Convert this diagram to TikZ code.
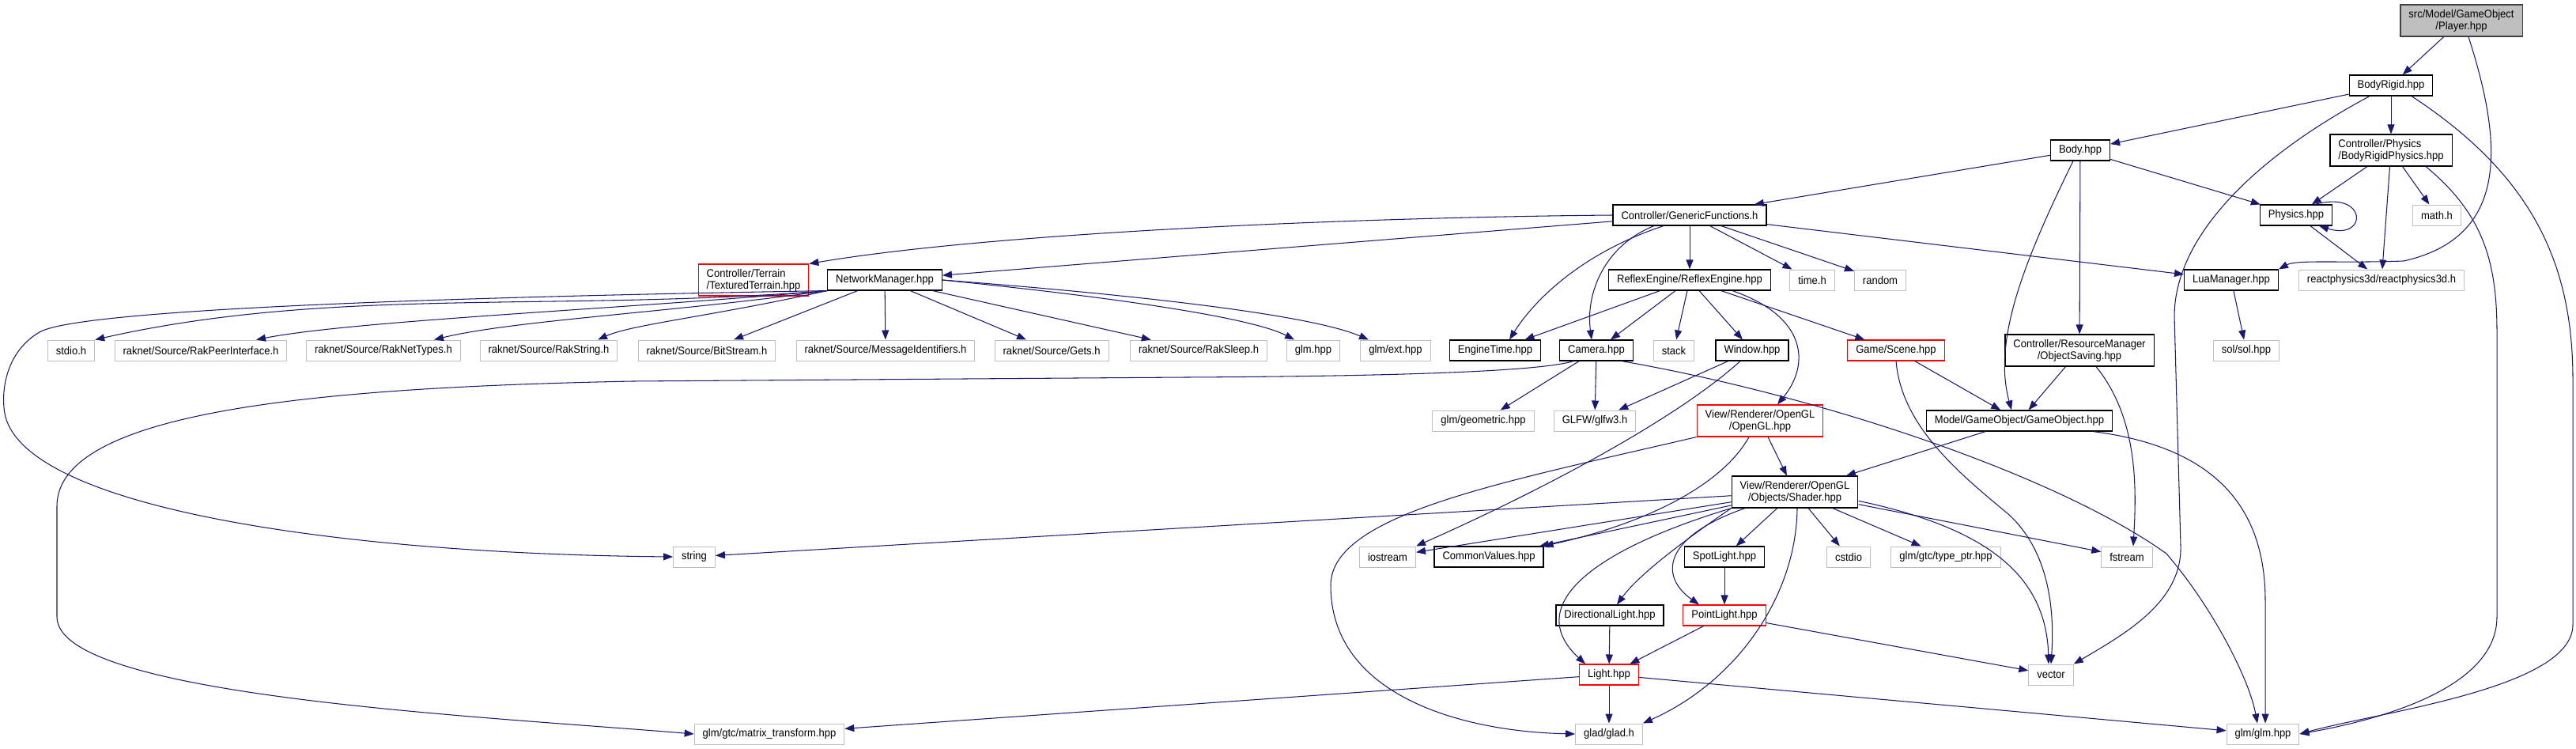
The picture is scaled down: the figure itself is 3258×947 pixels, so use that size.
\documentclass[tikz,border=0pt]{standalone}
\usepackage{fontspec}
\setmainfont{Liberation Sans}[FakeStretch=0.93]
\usetikzlibrary{arrows.meta}
\definecolor{edgeblue}{HTML}{191970}
\definecolor{extgrey}{HTML}{BFBFBF}
\definecolor{rootgrey}{HTML}{BFBFBF}
\definecolor{rootline}{HTML}{404040}
\definecolor{truncred}{HTML}{FF0000}

\begin{document}
\begin{tikzpicture}[x=1pt,y=-1pt,
  filebox/.style={fill=white,inner xsep=10.5pt,inner ysep=0pt,minimum height=26pt,
    font=\fontsize{14}{15}\selectfont},
  docfile/.style={filebox,draw=black,line width=1.15pt},
  extfile/.style={filebox,draw=extgrey,line width=1pt},
  truncfile/.style={filebox,draw=truncred,line width=1.05pt},
  rootfile/.style={filebox,draw=rootline,fill=rootgrey,line width=1.15pt},
  twoline/.style={minimum height=40pt,align=center},
  twoleft/.style={minimum height=40pt,align=left},
  dep/.style={-{Triangle[length=12pt,width=9pt]},draw=edgeblue,line width=1.05pt}
]
  \useasboundingbox (0,0) rectangle (3258,947);

  \node[rootfile,twoline] (player) at (3113,26) {src/Model/GameObject\\/Player.hpp};
  \node[docfile] (bodyrigid) at (3024,108) {BodyRigid.hpp};
  \node[docfile] (body) at (2631,190) {Body.hpp};
  \node[docfile,twoleft] (brphys) at (3024,190) {Controller/Physics\\/BodyRigidPhysics.hpp};
  \node[docfile] (generic) at (2137,272) {Controller/GenericFunctions.h};
  \node[docfile] (physics) at (2904,272) {Physics.hpp};
  \node[extfile] (mathh) at (3082,272) {math.h};

  \node[truncfile,twoleft] (terrain) at (953,354) {Controller/Terrain\\/TexturedTerrain.hpp};
  \node[docfile] (netman) at (1119,354) {NetworkManager.hpp};
  \node[docfile] (reflex) at (2137,354) {ReflexEngine/ReflexEngine.hpp};
  \node[extfile] (timeh) at (2292,354) {time.h};
  \node[extfile] (random) at (2378,354) {random};
  \node[docfile] (lua) at (2822,354) {LuaManager.hpp};
  \node[extfile] (react) at (3012,354) {reactphysics3d/reactphysics3d.h};

  \node[extfile] (stdioh) at (90,443) {stdio.h};
  \node[extfile] (rakpeer) at (254,443) {raknet/Source/RakPeerInterface.h};
  \node[extfile] (raktypes) at (485,443) {raknet/Source/RakNetTypes.h};
  \node[extfile] (rakstring) at (694,443) {raknet/Source/RakString.h};
  \node[extfile] (bitstream) at (894,443) {raknet/Source/BitStream.h};
  \node[extfile] (msgid) at (1120,443) {raknet/Source/MessageIdentifiers.h};
  \node[extfile] (gets) at (1330,443) {raknet/Source/Gets.h};
  \node[extfile] (raksleep) at (1516,443) {raknet/Source/RakSleep.h};
  \node[extfile] (glmhpp) at (1661,443) {glm.hpp};
  \node[extfile] (glmext) at (1765,443) {glm/ext.hpp};
  \node[docfile] (enginetime) at (1891,443) {EngineTime.hpp};
  \node[docfile] (camera) at (2019,443) {Camera.hpp};
  \node[extfile] (stack) at (2117,443) {stack};
  \node[docfile] (window) at (2216,443) {Window.hpp};
  \node[truncfile] (scene) at (2398,443) {Game/Scene.hpp};
  \node[docfile,twoline] (objsaving) at (2630,443) {Controller/ResourceManager\\/ObjectSaving.hpp};
  \node[extfile] (sol) at (2841,443) {sol/sol.hpp};

  \node[extfile] (geometric) at (1876,532) {glm/geometric.hpp};
  \node[extfile] (glfw) at (2017,532) {GLFW/glfw3.h};
  \node[truncfile,twoline] (opengl) at (2226,532) {View/Renderer/OpenGL\\/OpenGL.hpp};
  \node[docfile] (gameobject) at (2554,532) {Model/GameObject/GameObject.hpp};

  \node[docfile,twoline] (shader) at (2270,622) {View/Renderer/OpenGL\\/Objects/Shader.hpp};

  \node[extfile] (string) at (878,704) {string};
  \node[extfile] (iostream) at (1755,704) {iostream};
  \node[docfile] (commonvalues) at (1883,704) {CommonValues.hpp};
  \node[docfile] (spotlight) at (2181,704) {SpotLight.hpp};
  \node[extfile] (cstdio) at (2338,704) {cstdio};
  \node[extfile] (typeptr) at (2461,704) {glm/gtc/type\_ptr.hpp};
  \node[extfile] (fstream) at (2690,704) {fstream};

  \node[docfile] (directional) at (2036,778) {DirectionalLight.hpp};
  \node[truncfile] (pointlight) at (2181,778) {PointLight.hpp};

  \node[truncfile] (light) at (2035,853) {Light.hpp};
  \node[extfile] (vector) at (2594,853) {vector};

  \node[extfile] (matrix) at (973,928) {glm/gtc/matrix\_transform.hpp};
  \node[extfile] (glad) at (2035,928) {glad/glad.h};
  \node[extfile] (glmglm) at (2862,928) {glm/glm.hpp};

  % player and physics side
  \draw[dep] (player) -- (bodyrigid);
  \draw[dep] ([xshift=9pt]player.south) .. controls (3165,180) and (3175,300) .. (3040,330)
    .. controls (2960,333) and (2905,328) .. (lua.north east);
  \draw[dep] (bodyrigid) -- (body);
  \draw[dep] (bodyrigid) -- (brphys);
  \draw[dep] ([xshift=-27pt]bodyrigid.south) .. controls (2850,200) and (2750,300) .. (2750,400)
    -- (2758,690) .. controls (2760,760) and (2690,800) .. (vector.north east);
  \draw[dep] ([xshift=26pt]bodyrigid.south) .. controls (3200,220) and (3254,330) .. (3254,480)
    -- (3254,790) .. controls (3254,870) and (3010,900) .. (glmglm.east);
  \draw[dep] (body) -- (generic);
  \draw[dep] (body) -- (physics);
  \draw[dep] (body) -- (objsaving);
  \draw[dep] ([xshift=-9pt]body.south) .. controls (2560,330) and (2520,430) .. ([xshift=-10pt]gameobject.north);
  \draw[dep] (brphys) -- (physics);
  \draw[dep] (brphys) -- (react);
  \draw[dep] (brphys) -- (mathh);
  \draw[dep] ([xshift=44pt]brphys.south) .. controls (3140,270) and (3158,330) .. (3158,420)
    -- (3158,780) .. controls (3158,870) and (3010,910) .. (glmglm.east);
  \draw[dep] ([xshift=24pt]physics.north) .. controls (2995,240) and (2995,305) .. ([xshift=29pt]physics.south);
  \draw[dep] (physics) -- (react);
  \draw[dep] (lua) -- (sol);

  % generic functions
  \draw[dep] (generic.west) .. controls (1700,275) and (1250,295) .. (terrain.north east);
  \draw[dep] (generic) -- (netman);
  \draw[dep] (generic) -- (reflex);
  \draw[dep] (generic) -- (timeh);
  \draw[dep] (generic) -- (random);
  \draw[dep] (generic) -- (lua);
  \draw[dep] ([xshift=-33pt]generic.south) .. controls (2000,320) and (1940,380) .. ([xshift=18pt]enginetime.north);
  \draw[dep] ([xshift=-45pt]generic.south) .. controls (2030,310) and (2005,370) .. ([xshift=-6pt]camera.north);

  % network manager
  \draw[dep] (netman.south west) .. controls (700,395) and (420,362) .. (stdioh.north east);
  \draw[dep] (netman.south west) .. controls (600,375) and (100,390) .. (50,420)
    .. controls (15,440) and (2,480) .. (5,515) .. controls (12,640) and (420,700) .. (string.west);
  \draw[dep] (netman.south west) .. controls (800,390) and (450,405) .. ([xshift=70pt]rakpeer.north);
  \draw[dep] (netman.south west) .. controls (850,395) and (650,405) .. ([xshift=64pt]raktypes.north);
  \draw[dep] (netman.south west) .. controls (900,400) and (800,410) .. ([xshift=62pt]rakstring.north);
  \draw[dep] (netman) -- (bitstream);
  \draw[dep] (netman) -- (msgid);
  \draw[dep] (netman) -- (gets);
  \draw[dep] (netman) -- (raksleep);
  \draw[dep] (netman.east) .. controls (1450,380) and (1590,405) .. ([xshift=-24pt]glmhpp.north);
  \draw[dep] (netman.east) .. controls (1400,370) and (1650,395) .. ([xshift=-34pt]glmext.north);

  % reflex engine
  \draw[dep] (reflex) -- (enginetime);
  \draw[dep] (reflex) -- (camera);
  \draw[dep] (reflex) -- (stack);
  \draw[dep] (reflex) -- (window);
  \draw[dep] (reflex) -- (scene);
  \draw[dep] ([xshift=54pt]reflex.south) .. controls (2285,400) and (2290,460) .. ([xshift=22pt]opengl.north);

  % camera, window, scene
  \draw[dep] (camera) -- (geometric);
  \draw[dep] (camera) -- (glfw);
  \draw[dep] ([xshift=32pt]camera.south) .. controls (2300,500) and (2600,600) .. (2740,700)
    .. controls (2800,770) and (2845,860) .. ([xshift=-7pt]glmglm.north);
  \draw[dep] ([xshift=-29pt]camera.south) .. controls (1940,472) and (1700,476) .. (1500,477)
    -- (800,482) .. controls (400,490) and (72,520) .. (72,640) -- (72,780)
    .. controls (72,880) and (600,905) .. (matrix.west);
  \draw[dep] (window) -- (glfw);
  \draw[dep] ([xshift=-15pt]window.south) .. controls (2120,530) and (1950,620) .. (iostream.north east);
  \draw[dep] (scene) -- (gameobject);
  \draw[dep] (scene.south) .. controls (2405,540) and (2480,600) .. (2540,650)
    .. controls (2595,700) and (2598,780) .. (vector.north);
  \draw[dep] (objsaving) -- (gameobject);
  \draw[dep] ([xshift=21pt]objsaving.south) .. controls (2705,530) and (2702,620) .. ([xshift=8pt]fstream.north);
  \draw[dep] (gameobject) -- (shader);
  \draw[dep] ([xshift=93pt]gameobject.south) .. controls (2800,565) and (2865,640) .. (2865,760)
    -- ([xshift=3pt]glmglm.north);

  % renderer
  \draw[dep] (opengl) -- (shader);
  \draw[dep] ([xshift=-14pt]opengl.south) .. controls (2180,610) and (2090,660) .. (commonvalues.north east);
  \draw[dep] (opengl.south west) .. controls (1900,610) and (1683,650) .. (1683,740)
    .. controls (1683,880) and (1850,925) .. (glad.west);
  \draw[dep] (shader) -- (string);
  \draw[dep] (shader) -- (iostream);
  \draw[dep] (shader) -- (commonvalues);
  \draw[dep] (shader) -- (spotlight);
  \draw[dep] (shader) -- (cstdio);
  \draw[dep] (shader) -- (typeptr);
  \draw[dep] (shader) -- (fstream);
  \draw[dep] (shader.-8) .. controls (2500,665) and (2588,720) .. ([xshift=-3pt]vector.north);
  \draw[dep] (shader.south west) .. controls (2120,690) and (2070,730) .. ([xshift=9pt]directional.north);
  \draw[dep] (shader.south west) .. controls (2000,700) and (1930,770) .. ([xshift=-30pt]light.north);
  \draw[dep] ([xshift=-63pt]shader.south) .. controls (2100,680) and (2100,730) .. ([xshift=-32pt]pointlight.north);
  \draw[dep] ([xshift=3pt]shader.south) .. controls (2272,750) and (2200,860) .. (glad.north east);

  % lights
  \draw[dep] (spotlight) -- (pointlight);
  \draw[dep] (directional) -- (light);
  \draw[dep] (pointlight) -- (light);
  \draw[dep] (pointlight) -- (vector);
  \draw[dep] (light) -- (matrix);
  \draw[dep] (light) -- (glad);
  \draw[dep] (light) -- (glmglm);
\end{tikzpicture}
\end{document}
